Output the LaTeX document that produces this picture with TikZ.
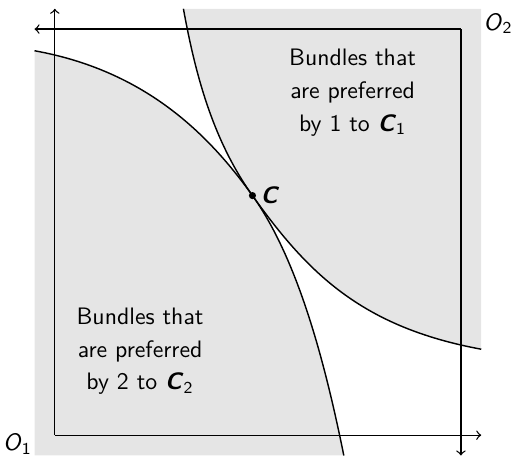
\documentclass[tikz,border=0pt]{standalone}
\usepackage{tikz}
\usetikzlibrary{positioning}
\definecolor{regiongray}{gray}{0.9}

\begin{document}
\begin{tikzpicture}[
    region/.style={
        fill=regiongray
    },
    curve/.style={
        draw=black,
        line width=0.6pt
    },
    axis/.style={
        ->,
        black,
        line width=0.55pt
    },
    txt/.style={
        align=center,
        font=\fontsize{10}{13.7}\selectfont\sffamily
    }
]

\useasboundingbox (-0.81,-0.31) rectangle (6.74,6.43);

\coordinate (o1) at (0,0);
\coordinate (o2) at (6,6);
\coordinate (c) at (2.92,3.54);

% bundles preferred by 1 and by 2
\fill[region] (1.90,6.3) .. controls (2.079,5.316) and (2.339,4.354) .. (c)
    .. controls (3.733,2.400) and (4.529,1.598) .. (6.3,1.27) -- (6.3,6.3) -- cycle;
\fill[region] (-0.3,5.68) .. controls (1.274,5.395) and (2.223,4.517) .. (c)
    .. controls (3.617,2.563) and (4.011,0.974) .. (4.27,-0.3) -- (-0.3,-0.3) -- cycle;

% indifference curves through C
\draw[curve] (1.90,6.3) .. controls (2.079,5.316) and (2.339,4.354) .. (c)
    .. controls (3.733,2.400) and (4.529,1.598) .. (6.3,1.27);
\draw[curve] (-0.3,5.68) .. controls (1.274,5.395) and (2.223,4.517) .. (c)
    .. controls (3.617,2.563) and (4.011,0.974) .. (4.27,-0.3);

\fill (c) circle (1.5pt);
\node[txt, right] (lc) at (c) {\textbf{\textit{C}}};

\node[txt] (pref1) at (4.40,5.06) {Bundles that\\are preferred\\by 1 to \textbf{\textit{C}}\textsubscript{1}};
\node[txt] (pref2) at (1.26,1.24) {Bundles that\\are preferred\\by 2 to \textbf{\textit{C}}\textsubscript{2}};

% axes of 1 and 2
\coordinate (x1) at (6.3,0);
\coordinate (y1) at (0,6.3);
\coordinate (x2) at (-0.3,6);
\coordinate (y2) at (6,-0.3);
\draw[axis] (o1) -- (x1);
\draw[axis] (o1) -- (y1);
\draw[axis] (o2) -- (x2);
\draw[axis] (o2) -- (y2);

\node[txt, anchor=north east, inner sep=0pt] (lo1) at (-0.33,0.03) {\textit{O}\textsubscript{1}};
\node[txt, anchor=north west, inner sep=0pt] (lo2) at (6.33,6.24) {\textit{O}\textsubscript{2}};

\end{tikzpicture}
\end{document}
